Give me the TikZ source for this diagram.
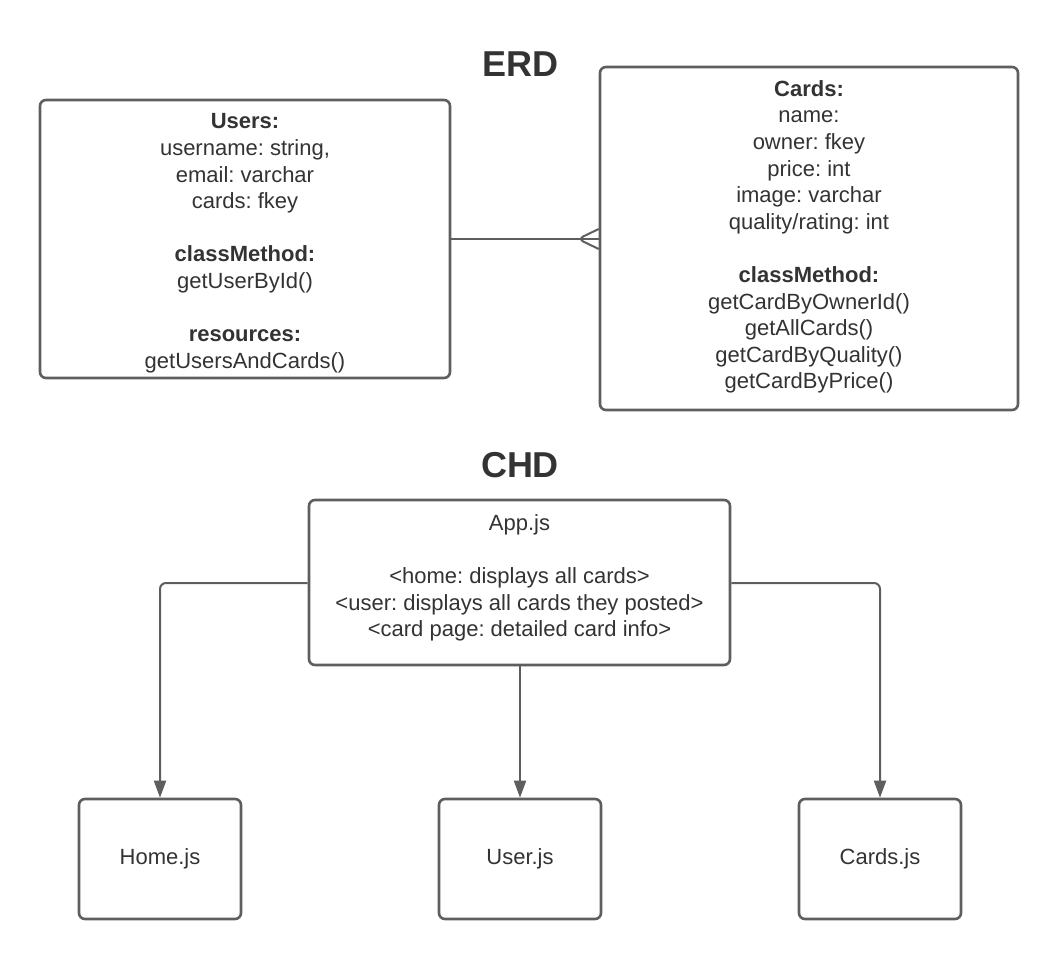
\documentclass[tikz,border=0pt]{standalone}
\usepackage{fontspec}
\setmainfont{Liberation Sans}
\usetikzlibrary{arrows.meta}
\definecolor{linegray}{HTML}{5E5E5E}
\definecolor{txtgray}{HTML}{333333}
\frenchspacing
\begin{document}
\begin{tikzpicture}[x=1pt,y=-1pt,
  box/.style={draw=linegray, line width=2.6pt, rounded corners=6pt, fill=white, inner sep=0pt},
  body/.style={text=txtgray, font=\fontsize{22}{26.6}\selectfont\frenchspacing, align=center, inner sep=0pt},
  title/.style={text=txtgray, font=\fontsize{36}{40}\selectfont\bfseries, inner sep=0pt, anchor=base},
  conn/.style={draw=linegray, line width=2pt, rounded corners=6pt},
  arr/.style={conn, -{Triangle[length=17pt,width=12pt]}}]
\useasboundingbox (0,0) rectangle (1060,960);
% titles
\node[title] (erd) at (520,77) {ERD};
\node[title] (chd) at (520,477) {CHD};
% ERD boxes
\node[box, minimum width=410pt, minimum height=278pt] (users) at (245,239) {};
\node[body] (userstxt) at (245,243.4) {\textbf{Users:}\\username: string,\\email: varchar\\cards: fkey\\[26.6pt]\textbf{classMethod:}\\getUserById()\\[26.6pt]\textbf{resources:}\\getUsersAndCards()};
\node[box, minimum width=418pt, minimum height=343pt] (cards) at (809,238.5) {};
\node[body] (cardstxt) at (809,236.9) {\textbf{Cards:}\\name:\\owner: fkey\\price: int\\image: varchar\\quality/rating: int\\[26.6pt]\textbf{classMethod:}\\getCardByOwnerId()\\getAllCards()\\getCardByQuality()\\getCardByPrice()};
% relationship
\coordinate (crow) at (578,239);
\draw[conn] (users.east |- crow) -- (cards.west |- crow);
\draw[conn] (cards.west |- 0,229) -- (crow) -- (cards.west |- 0,249);
% CHD
\node[box, minimum width=421pt, minimum height=165pt] (app) at (519.5,582.5) {};
\node[body] (apptxt) at (519.5,577.9) {App.js\\[26.6pt]<home: displays all cards>\\<user: displays all cards they posted>\\<card page: detailed card info>};
\node[box, minimum width=162pt, minimum height=120pt, body] (home) at (160,859) {Home.js};
\node[box, minimum width=162pt, minimum height=120pt, body] (user) at (520,859) {User.js};
\node[box, minimum width=162pt, minimum height=120pt, body] (cardsjs) at (880,859) {Cards.js};
\coordinate (split) at (0,583);
\draw[arr] (app.west |- split) -| (home.north);
\draw[arr] (app.south -| user.north) -- (user.north);
\draw[arr] (app.east |- split) -| (cardsjs.north);
\end{tikzpicture}
\end{document}
